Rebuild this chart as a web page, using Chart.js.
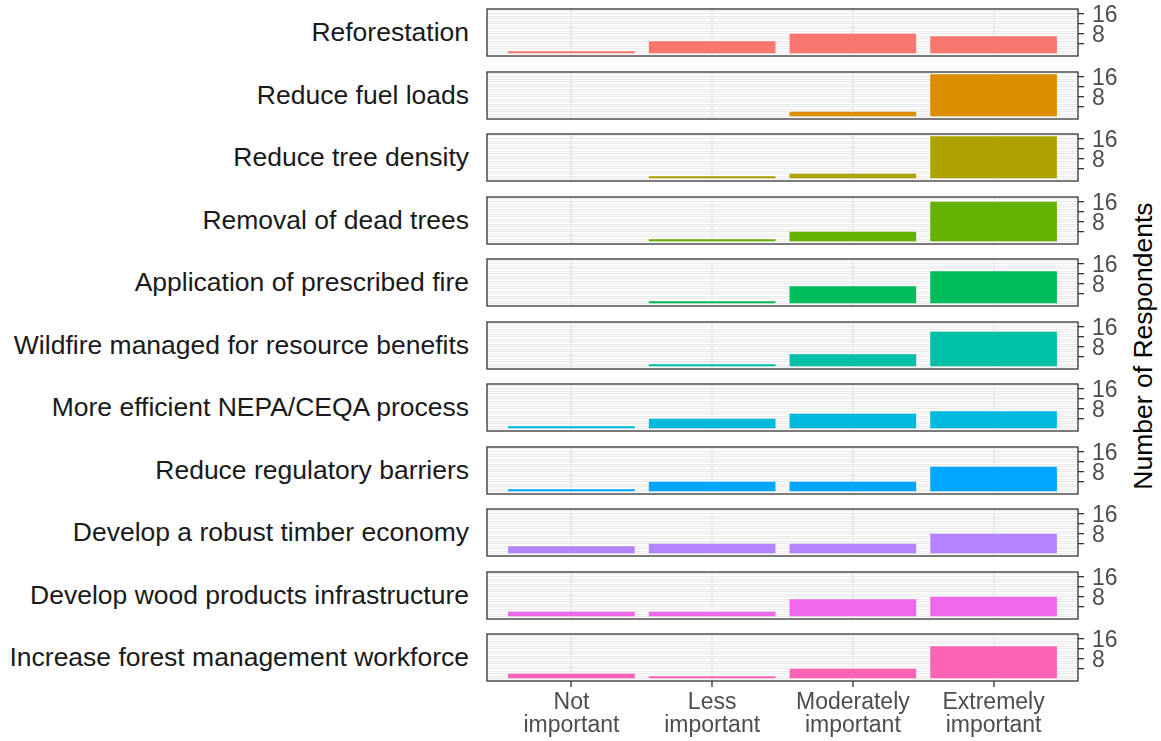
<!DOCTYPE html>
<html>
<head>
<meta charset="utf-8">
<script src="https://cdn.jsdelivr.net/npm/chart.js@4.4.1/dist/chart.umd.min.js"></script>
<style>
  body { margin: 0; background: #fff; width: 1161px; height: 741px; overflow: hidden; position: relative;
         font-family: "Liberation Sans", Arial, sans-serif; }
  canvas { position: absolute; }
  .lab { position: absolute; left: 0; width: 469px; height: 47px; display: flex; align-items: center;
         justify-content: flex-end; font-size: 26.5px; color: #1a1a1a; white-space: nowrap; }
  #ytitle { position: absolute; left: 1143px; top: 346px; transform: translate(-50%, -50%) rotate(-90deg);
            font-size: 26.5px; color: #000; white-space: nowrap; }
</style>
</head>
<body>
<div id="ytitle">Number of Respondents</div>
<script>
// answer levels, left to right
const levels = ['Not important', 'Less important', 'Moderately important', 'Extremely important'];
const levelLabels = [['Not', 'important'], ['Less', 'important'], ['Moderately', 'important'], ['Extremely', 'important']];

// one row per management action (counts for the four levels)
const actions = [
    'Reforestation',
    'Reduce fuel loads',
    'Reduce tree density',
    'Removal of dead trees',
    'Application of prescribed fire',
    'Wildfire managed for resource benefits',
    'More efficient NEPA/CEQA process',
    'Reduce regulatory barriers',
    'Develop a robust timber economy',
    'Develop wood products infrastructure',
    'Increase forest management workforce'
];
const reforestation   = [1, 5, 8, 7];
const fuelLoads       = [0, 0, 2, 17];
const treeDensity     = [0, 1, 2, 17];
const deadTrees       = [0, 1, 4, 16];
const prescribedFire  = [0, 1, 7, 13];
const wildfireManaged = [0, 1, 5, 14];
const nepaCeqa        = [1, 4, 6, 7];
const regulatory      = [1, 4, 4, 10];
const timberEconomy   = [3, 4, 4, 8];
const woodProducts    = [2, 2, 7, 8];
const workforce       = [2, 1, 4, 13];
const counts = [reforestation, fuelLoads, treeDensity, deadTrees, prescribedFire, wildfireManaged,
                nepaCeqa, regulatory, timberEconomy, woodProducts, workforce];

const colors = ['#F8766D', '#DB8E00', '#AEA200', '#64B200', '#00BD5C', '#00C1A7',
                '#00BADE', '#00A6FF', '#B385FF', '#EF67EB', '#FF63B6'];

const yTicks = [4, 8, 12, 16];
const yLabels = [8, 16];

const framePlugin = {
    id: 'frame',
    afterDatasetsDraw(chart) {
        const a = chart.chartArea, c = chart.ctx;
        c.save();
        c.strokeStyle = '#333333';
        c.lineWidth = 1.3;
        c.strokeRect(a.left, a.top, a.right - a.left, a.bottom - a.top);
        c.restore();
    }
};

actions.forEach((name, i) => {
    const last = i === actions.length - 1;
    const panelTop = Math.round(9 + 62.5 * i);

    const lab = document.createElement('div');
    lab.className = 'lab';
    lab.style.top = panelTop + 'px';
    lab.textContent = name;
    document.body.appendChild(lab);

    const cv = document.createElement('canvas');
    cv.width = 650;
    cv.height = last ? 113 : 59;
    cv.style.left = '480px';
    cv.style.top = (panelTop - 6) + 'px';
    document.body.appendChild(cv);

    new Chart(cv.getContext('2d'), {
        type: 'bar',
        data: {
            datasets: [{
                data: counts[i].map((v, k) => ({ x: k, y: v })),
                backgroundColor: colors[i],
                borderWidth: 0,
                barPercentage: 0.9,
                categoryPercentage: 1.0
            }]
        },
        options: {
            responsive: false,
            animation: false,
            layout: { autoPadding: false, padding: { left: 7, right: 0, top: 6, bottom: last ? 0 : 6 } },
            plugins: { legend: { display: false }, tooltip: { enabled: false } },
            scales: {
                x: {
                    type: 'linear',
                    min: -0.6,
                    max: 3.6,
                    offset: false,
                    afterBuildTicks: axis => { axis.ticks = levels.map((_, k) => ({ value: k })); },
                    afterFit: axis => {
                        axis.height = last ? 60 : 0;
                        axis.paddingLeft = axis.paddingRight = 0;
                    },
                    border: { display: false },
                    grid: {
                        offset: false,
                        color: '#ebebeb',
                        lineWidth: 2,
                        drawTicks: last,
                        tickLength: 6,
                        tickColor: '#333333',
                        tickWidth: 1.3
                    },
                    ticks: {
                        display: last,
                        autoSkip: false,
                        maxRotation: 0,
                        padding: 4,
                        color: '#4d4d4d',
                        font: { family: '"Liberation Sans", Arial, sans-serif', size: 23, lineHeight: 1.0 },
                        callback: v => levelLabels[v]
                    }
                },
                y: {
                    position: 'right',
                    min: -0.85,
                    max: 17.85,
                    afterBuildTicks: axis => {
                        const t = [];
                        for (let v = 0; v <= 17; v++) t.push({ value: v });
                        axis.ticks = t;
                    },
                    afterFit: axis => {
                        axis.width = 52;
                        axis.paddingTop = axis.paddingBottom = 0;
                    },
                    border: { display: false },
                    grid: {
                        color: '#ebebeb',
                        lineWidth: 1.3,
                        tickLength: 6,
                        tickWidth: 1.3,
                        tickColor: ctx => (ctx.tick && yTicks.includes(ctx.tick.value)) ? '#333333' : 'rgba(0,0,0,0)'
                    },
                    ticks: {
                        autoSkip: false,
                        padding: 8,
                        labelOffset: 2,
                        color: '#4d4d4d',
                        font: { family: '"Liberation Sans", Arial, sans-serif', size: 23 },
                        callback: v => yLabels.includes(v) ? String(v) : ''
                    }
                }
            }
        },
        plugins: [framePlugin]
    });
});
</script>
</body>
</html>
